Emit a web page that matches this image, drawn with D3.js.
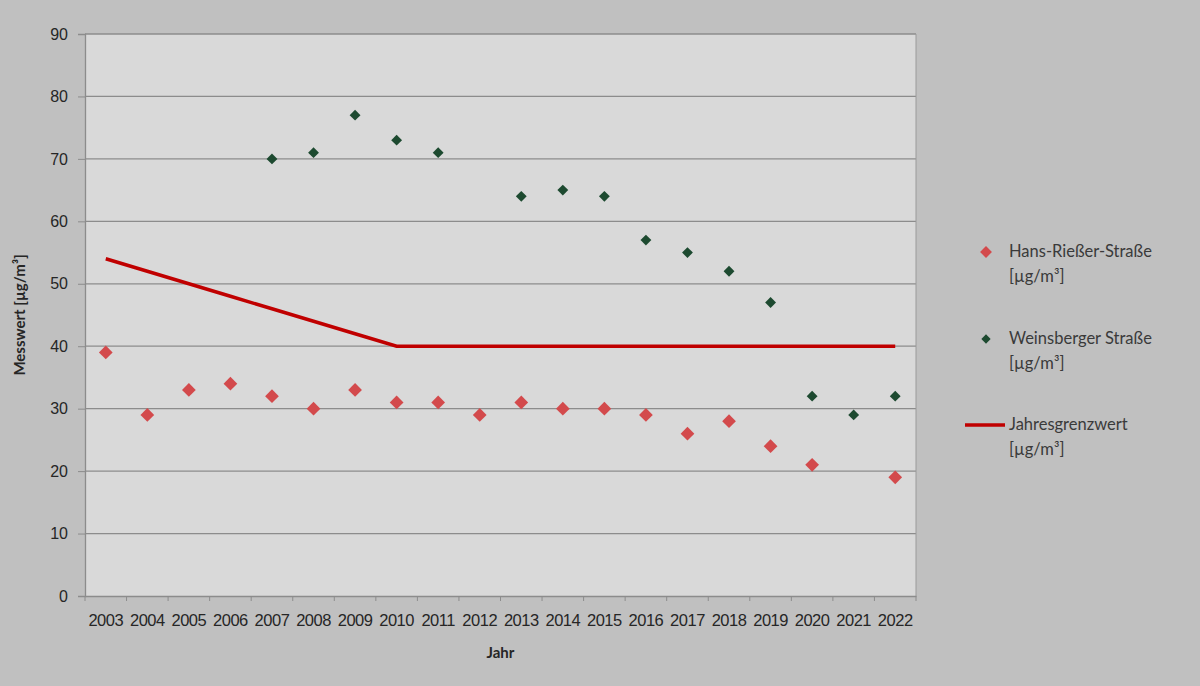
<!DOCTYPE html>
<html>
<head>
<meta charset="utf-8">
<script src="https://cdn.jsdelivr.net/npm/d3@7"></script>
<style>
  body { margin: 0; background: #c0c0c0; }
  svg { display: block; font-family: Lato, "Open Sans", sans-serif; }
</style>
</head>
<body>
<div id="chart"></div>
<script>
const years = ["2003","2004","2005","2006","2007","2008","2009","2010","2011","2012",
               "2013","2014","2015","2016","2017","2018","2019","2020","2021","2022"];
const hansRiesser = [39,29,33,34,32,30,33,31,31,29,31,30,30,29,26,28,24,21,null,19];
const weinsberger = [null,null,null,null,70,71,77,73,71,null,64,65,64,57,55,52,47,32,29,32];
const grenzwert = [54,52,50,48,46,44,42,40,40,40,40,40,40,40,40,40,40,40,40,40];
const yTicks = [0,10,20,30,40,50,60,70,80,90];

let width = 1200, height = 686;
let margin = {top: 34, right: 284, bottom: 90, left: 85};
let w = width - margin.left - margin.right;
let h = height - margin.top - margin.bottom;

let svg = d3.select("#chart").append("svg")
    .attr("width", width).attr("height", height);
svg.append("rect").attr("width", width).attr("height", height).attr("fill", "#c0c0c0");

let g = svg.append("g").attr("transform", "translate(" + margin.left + "," + margin.top + ")");

let x = d3.scaleBand().domain(years).range([0, w]);
let y = d3.scaleLinear().domain([0, 90]).range([h, 0]);

g.append("rect").attr("width", w).attr("height", h).attr("fill", "#d9d9d9");

// gridlines
g.selectAll(".grid").data(yTicks.slice(1)).enter().append("line")
    .attr("x1", 0).attr("x2", w)
    .attr("y1", d => y(d)).attr("y2", d => y(d))
    .attr("stroke", "#8c8c8c").attr("stroke-width", 1.3);
g.append("line").attr("x1", w).attr("x2", w).attr("y1", 0).attr("y2", h)
    .attr("stroke", "#9a9a9a").attr("stroke-width", 1);

// y axis
let yAxis = g.append("g").call(d3.axisLeft(y).tickValues(yTicks).tickSize(7).tickPadding(10));
yAxis.select(".domain").attr("stroke", "#8c8c8c").attr("stroke-width", 1.3);
yAxis.selectAll(".tick line").attr("stroke", "#8c8c8c");
yAxis.selectAll("text").attr("font-size", 16).attr("fill", "#262626");

// x axis
let xAxis = g.append("g").attr("transform", "translate(0," + h + ")")
    .call(d3.axisBottom(x).tickSize(0).tickPadding(18));
xAxis.select(".domain").attr("stroke", "#8c8c8c").attr("stroke-width", 1.3);
xAxis.selectAll("text").attr("font-size", 16.5).attr("fill", "#262626").attr("letter-spacing", "-0.5px");
xAxis.selectAll(".bound").data(years.concat(["end"])).enter().append("line")
    .attr("x1", (d, i) => i * x.step()).attr("x2", (d, i) => i * x.step())
    .attr("y1", 0).attr("y2", 5).attr("stroke", "#8c8c8c");

// limit line
let line = d3.line().x((d, i) => x(years[i]) + x.bandwidth() / 2).y(d => y(d));
g.append("path").datum(grenzwert)
    .attr("fill", "none").attr("stroke", "#c00000").attr("stroke-width", 3.5)
    .attr("d", line);

let diamond = d3.symbol().type(d3.symbolDiamond2);

function points(data, color, size) {
  g.selectAll(null).data(data.map((v, i) => ({year: years[i], v: v})).filter(d => d.v !== null))
    .enter().append("path")
    .attr("d", diamond.size(size)())
    .attr("transform", d => "translate(" + (x(d.year) + x.bandwidth() / 2) + "," + y(d.v) + ")")
    .attr("fill", color);
}
points(hansRiesser, "#d34a4c", 120);
points(weinsberger, "#1d4a30", 75);

// axis titles
svg.append("text")
    .attr("transform", "translate(25," + (margin.top + h / 2) + ") rotate(-90)")
    .attr("text-anchor", "middle").attr("font-size", 15).attr("font-weight", "bold").attr("fill", "#262626")
    .text("Messwert [µg/m³]");
svg.append("text")
    .attr("x", margin.left + w / 2).attr("y", 658)
    .attr("text-anchor", "middle").attr("font-size", 15).attr("font-weight", "bold").attr("fill", "#262626")
    .text("Jahr");

// legend
const legendItems = [
  {label: ["Hans-Rießer-Straße", "[µg/m³]"], type: "point", color: "#d34a4c", size: 90, y: 252},
  {label: ["Weinsberger Straße", "[µg/m³]"], type: "point", color: "#1d4a30", size: 55, y: 339},
  {label: ["Jahresgrenzwert", "[µg/m³]"], type: "line", color: "#c00000", y: 425}
];
let leg = svg.append("g");
legendItems.forEach(item => {
  if (item.type === "point") {
    leg.append("path").attr("d", diamond.size(item.size)())
      .attr("transform", "translate(986," + item.y + ")").attr("fill", item.color);
  } else {
    leg.append("line").attr("x1", 965).attr("x2", 1005).attr("y1", item.y).attr("y2", item.y)
      .attr("stroke", item.color).attr("stroke-width", 3.5);
  }
  let t = leg.append("text").attr("x", 1009).attr("y", item.y + 5)
      .attr("font-size", 16.5).attr("fill", "#3a3a3a");
  t.append("tspan").attr("x", 1009).text(item.label[0]);
  t.append("tspan").attr("x", 1009).attr("dy", 25).text(item.label[1]);
});
</script>
</body>
</html>
